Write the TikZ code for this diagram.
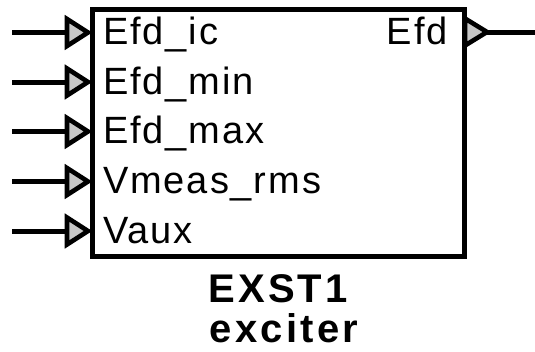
\documentclass[tikz,border=0pt]{standalone}
\usepackage{fontspec}
\setmainfont{Liberation Sans}
\newfontfamily\labfont[LetterSpace=5]{Liberation Sans}
\newfontfamily\titlefont[LetterSpace=8]{Liberation Sans}
\begin{document}
\begin{tikzpicture}[x=1pt,y=-1pt,
  wire/.style={line width=5pt},
  porttri/.style={line width=4.6pt, line join=miter, fill=black!22},
  portlabel/.style={inner sep=0pt, font=\labfont\fontsize{38}{42}\selectfont},
  titlelabel/.style={inner sep=0pt, text depth=0pt, font=\titlefont\bfseries\fontsize{40}{46}\selectfont}]
\useasboundingbox (0,0) rectangle (535,351);
% block
\node[draw, line width=5pt, minimum width=371.5pt, minimum height=247.5pt, inner sep=0pt] (blk) at (278.25,132.75) {};
% input ports
\foreach \i/\y/\t in {1/32.5/Efd\_ic, 2/82/Efd\_min, 3/131.5/Efd\_max, 4/181.5/Vmeas\_rms, 5/231/Vaux}{
  \coordinate (src\i) at (12,\y);
  \coordinate (base\i) at (67,\y);
  \coordinate (tip\i) at (88,\y);
  \draw[wire] (src\i) -- (base\i);
  \draw[porttri] (67,\y-13.5) -- (tip\i) -- (67,\y+13.5) -- cycle;
  \node[portlabel, anchor=base west] (lab\i) at (103,\y+12) {\t};
}
% output port
\coordinate (obase) at (465,32);
\coordinate (otip) at (487,32);
\coordinate (oend) at (535,32);
\draw[porttri] (465,18.5) -- (otip) -- (465,45.5) -- cycle;
\draw[wire] (otip) -- (oend);
\node[portlabel, anchor=base east] (olab) at (448,44.5) {Efd};
% title
\node[titlelabel, anchor=base] (t1) at (278,302) {EXST1};
\node[titlelabel, anchor=base] (t2) at (284,342.5) {exciter};
\end{tikzpicture}
\end{document}
